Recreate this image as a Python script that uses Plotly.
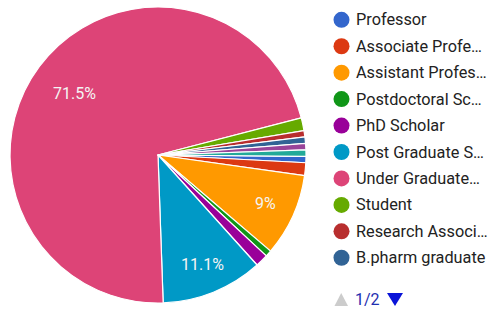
import math
import plotly.graph_objects as go

# ---- data ----
categories = [
    "Professor", "Associate Professor", "Assistant Professor", "Postdoctoral Scholar",
    "PhD Scholar", "Post Graduate Student", "Under Graduate Student", "Student",
    "Research Associate", "B.pharm graduate", "Other (page 2) A", "Other (page 2) B",
]
legend_labels = [
    "Professor", "Associate Profe…", "Assistant Profes…", "Postdoctoral Sc…",
    "PhD Scholar", "Post Graduate S…", "Under Graduate…", "Student",
    "Research Associ…", "B.pharm graduate",
]
counts = [1, 2, 13, 1, 2, 16, 103, 2, 1, 1, 1, 1]
colors = [
    "#3366CC", "#DC3912", "#FF9900", "#109618", "#990099", "#0099C6",
    "#DD4477", "#66AA00", "#B82E2E", "#316395", "#994499", "#22AA99",
]
pager_text = "1/2"

W, H = 490, 309
FONT = "Roboto"
total = sum(counts)
rotation = 90.5

cx, cy, r = 158, 155, 148
fig = go.Figure()
fig.add_trace(go.Pie(
    labels=categories,
    values=counts,
    textinfo="none",
    marker=dict(colors=colors, line=dict(color="white", width=1.2)),
    sort=False,
    direction="clockwise",
    rotation=rotation,
    showlegend=False,
    domain=dict(x=[(cx - r) / W, (cx + r) / W], y=[(H - cy - r) / H, (H - cy + r) / H]),
))

shapes = []
annotations = []

# percentage labels (Google style: only slices >= 5%), placed at slice mid-angle
cum = 0.0
for c in counts:
    frac = c / total
    mid = rotation + 360.0 * (cum + frac / 2)
    cum += frac
    if frac < 0.05:
        continue
    rf = 0.70 if frac > 0.5 else 0.80
    a = math.radians(mid)
    lx = cx + rf * r * math.sin(a)
    ly = cy - rf * r * math.cos(a)
    txt = ("%.1f" % (100 * frac)).rstrip("0").rstrip(".") + "%"
    annotations.append(dict(
        text=txt, xref="paper", yref="paper", x=lx / W, y=(H - ly) / H,
        xanchor="center", yanchor="middle", showarrow=False,
        font=dict(family=FONT, size=16, color="#F4F4F4"),
    ))

# legend (page 1 of 2)
leg_x_circle = 341.5
leg_x_text = 354
leg_y0 = 19.8
leg_dy = 26.44
for i, lab in enumerate(legend_labels):
    y = leg_y0 + i * leg_dy
    rad = 8
    shapes.append(dict(
        type="circle", xref="paper", yref="paper",
        x0=(leg_x_circle - rad) / W, x1=(leg_x_circle + rad) / W,
        y0=(H - y - rad) / H, y1=(H - y + rad) / H,
        fillcolor=colors[i], line=dict(width=0),
    ))
    annotations.append(dict(
        text=lab, xref="paper", yref="paper", x=leg_x_text / W, y=(H - y) / H,
        xanchor="left", yanchor="middle", showarrow=False,
        font=dict(family=FONT, size=16.3, color="#222222"),
    ))

# pager
py = 299.5
def tri(points):
    return "M " + " L ".join("%f,%f" % (px / W, (H - pyy) / H) for px, pyy in points) + " Z"
shapes.append(dict(type="path", xref="paper", yref="paper",
                   path=tri([(334.5, py + 6.5), (348, py + 6.5), (341.2, py - 6.5)]),
                   fillcolor="#CCCCCC", line=dict(width=0)))
shapes.append(dict(type="path", xref="paper", yref="paper",
                   path=tri([(387, py - 6.5), (403, py - 6.5), (395, py + 6.5)]),
                   fillcolor="#0A14D8", line=dict(width=0)))
annotations.append(dict(
    text=pager_text, xref="paper", yref="paper", x=353 / W, y=(H - py) / H,
    xanchor="left", yanchor="middle", showarrow=False,
    font=dict(family=FONT, size=16, color="#1F2FB0"),
))

fig.update_layout(
    width=W, height=H,
    margin=dict(l=0, r=0, t=0, b=0),
    paper_bgcolor="white",
    shapes=shapes,
    annotations=annotations,
)
fig.write_html("out.html", config={"displayModeBar": False},
               post_script="document.body.style.margin='0';")
